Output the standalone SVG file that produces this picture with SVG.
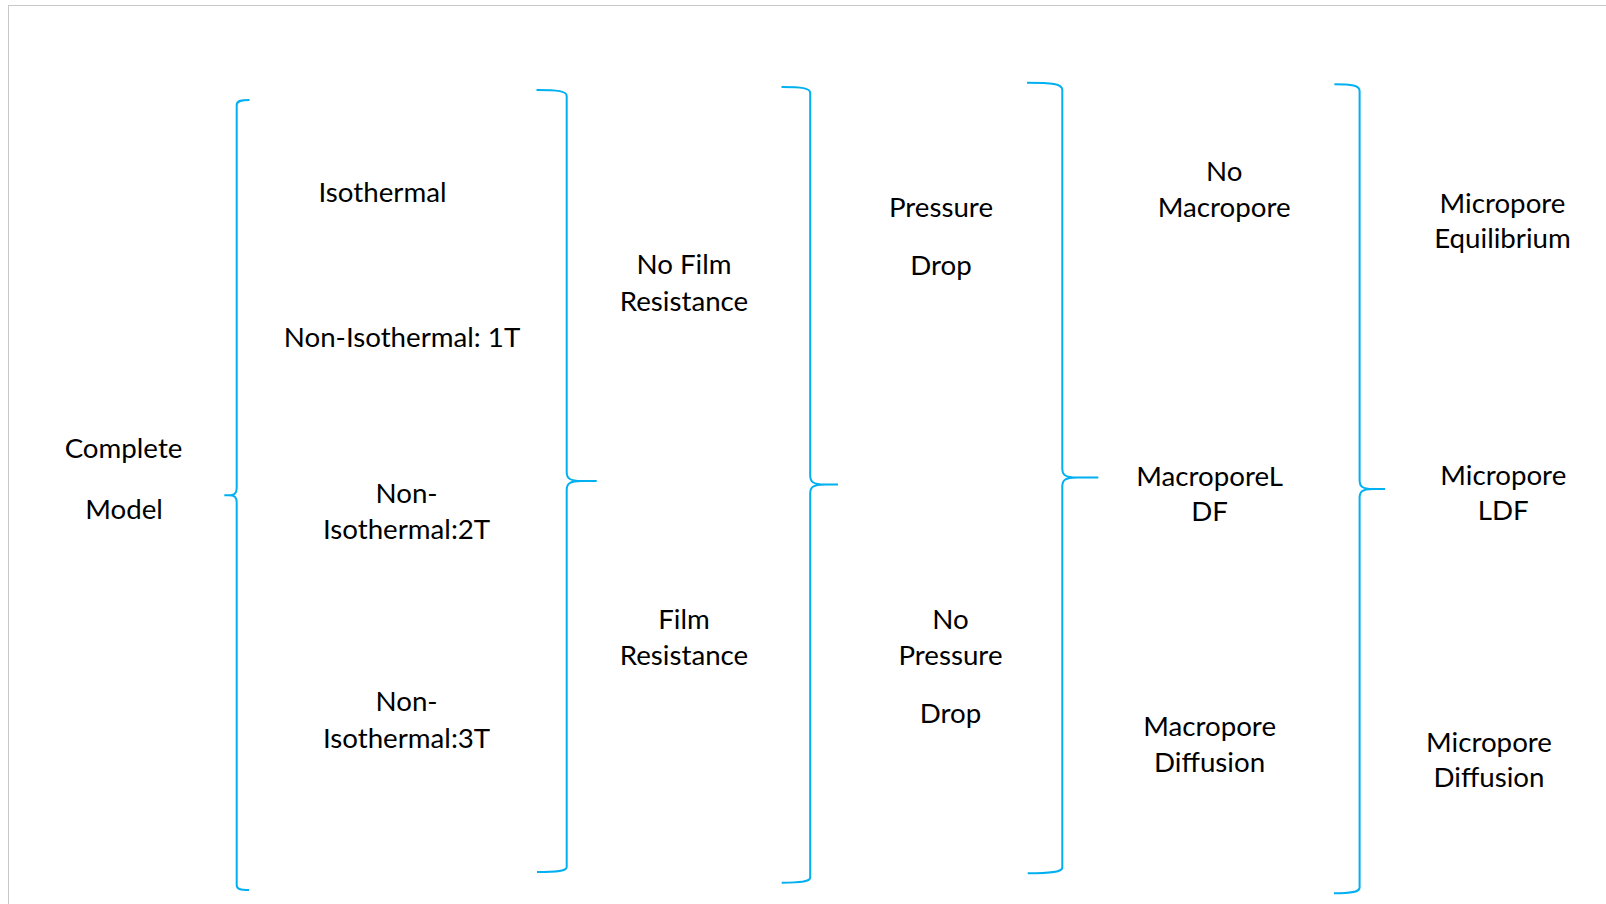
<svg xmlns="http://www.w3.org/2000/svg" width="1606" height="904" viewBox="0 0 1606 904">
<style>
.t{font-family:Lato,"Open Sans","Liberation Sans",sans-serif;font-size:27.7px;fill:#000;text-anchor:middle}
.b{fill:none;stroke:#00B0F0;stroke-width:2;stroke-linecap:butt;stroke-linejoin:round}
</style>
<rect x="0" y="0" width="1606" height="904" fill="#fff"/>
<rect x="8.5" y="5.5" width="1700" height="1000" fill="none" stroke="#c8c8c8" stroke-width="1"/>
<g id="connectors">
<path class="b" d="M249.5,100 C242,100 236.7,100.5 236.7,105 L236.7,488 C236.7,493 235,495.3 228,495.3 L224.3,495.3 M224.3,495.3 L228,495.3 C235,495.3 236.7,497.5 236.7,502.5 L236.7,885 C236.7,889 240,890 249,890"/>
<path class="b" d="M536.5,90 C558,90 566.7,91 566.7,96 L566.7,472 C566.7,478 569,481 582,481 L596.7,481 M596.7,481 L582,481 C569,481 566.7,484 566.7,490 L566.7,867 C566.7,871 558,872 537,872"/>
<path class="b" d="M781.5,87 C802,87 810.2,88 810.2,93 L810.2,475.5 C810.2,481.5 812.5,484.4 825,484.4 L838,484.4 M838,484.4 L825,484.4 C812.5,484.4 810.2,487.5 810.2,493.5 L810.2,877.5 C810.2,881.5 802,882.7 781.7,882.7"/>
<path class="b" d="M1027,82.7 C1052,82.7 1062.3,84 1062.3,90 L1062.3,468.5 C1062.3,474.5 1064.5,477.5 1077,477.5 L1098.3,477.5 M1098.3,477.5 L1077,477.5 C1064.5,477.5 1062.3,480.5 1062.3,486.5 L1062.3,867.5 C1062.3,872 1052,873.3 1027.7,873.3"/>
<path class="b" d="M1334.4,84.3 C1352,84.3 1359.6,85.5 1359.6,91 L1359.6,480 C1359.6,486 1361.5,489 1373,489 L1385,489 M1385,489 L1373,489 C1361.5,489 1359.6,492 1359.6,498 L1359.6,887.5 C1359.6,892 1352,893.3 1334,893.3"/>
</g>
<g id="complete-model"><text class="t" x="123.5" y="458.3">Complete</text><text class="t" x="124" y="519">Model</text></g>
<g id="isothermal"><text class="t" x="382.5" y="202.3">Isothermal</text></g>
<g id="non-isothermal-1t"><text class="t" x="402" y="346.7">Non-Isothermal: 1T</text></g>
<g id="non-isothermal-2t"><text class="t" x="406.6" y="503.4">Non-</text><text class="t" x="406.6" y="539.2">Isothermal:2T</text></g>
<g id="non-isothermal-3t"><text class="t" x="406.6" y="711.3">Non-</text><text class="t" x="406.6" y="748.2">Isothermal:3T</text></g>
<g id="no-film-resistance"><text class="t" x="684" y="274">No Film</text><text class="t" x="684" y="310.7">Resistance</text></g>
<g id="film-resistance"><text class="t" x="684" y="629.3">Film</text><text class="t" x="684" y="665.2">Resistance</text></g>
<g id="pressure-drop"><text class="t" x="941" y="216.7">Pressure</text><text class="t" x="941" y="275">Drop</text></g>
<g id="no-pressure-drop"><text class="t" x="950.5" y="629.3">No</text><text class="t" x="950.5" y="665.2">Pressure</text><text class="t" x="950.5" y="722.5">Drop</text></g>
<g id="no-macropore"><text class="t" x="1224.2" y="180.5">No</text><text class="t" x="1224.2" y="216.7">Macropore</text></g>
<g id="macropore-ldf"><text class="t" x="1209.6" y="485.5">MacroporeL</text><text class="t" x="1209.6" y="520.5">DF</text></g>
<g id="macropore-diffusion"><text class="t" x="1209.6" y="735.7">Macropore</text><text class="t" x="1209.6" y="771.7">Diffusion</text></g>
<g id="micropore-equilibrium"><text class="t" x="1502.5" y="213.3">Micropore</text><text class="t" x="1502.5" y="247.5">Equilibrium</text></g>
<g id="micropore-ldf"><text class="t" x="1503.3" y="485">Micropore</text><text class="t" x="1503.3" y="520">LDF</text></g>
<g id="micropore-diffusion"><text class="t" x="1489" y="752.2">Micropore</text><text class="t" x="1489" y="787">Diffusion</text></g>
</svg>
